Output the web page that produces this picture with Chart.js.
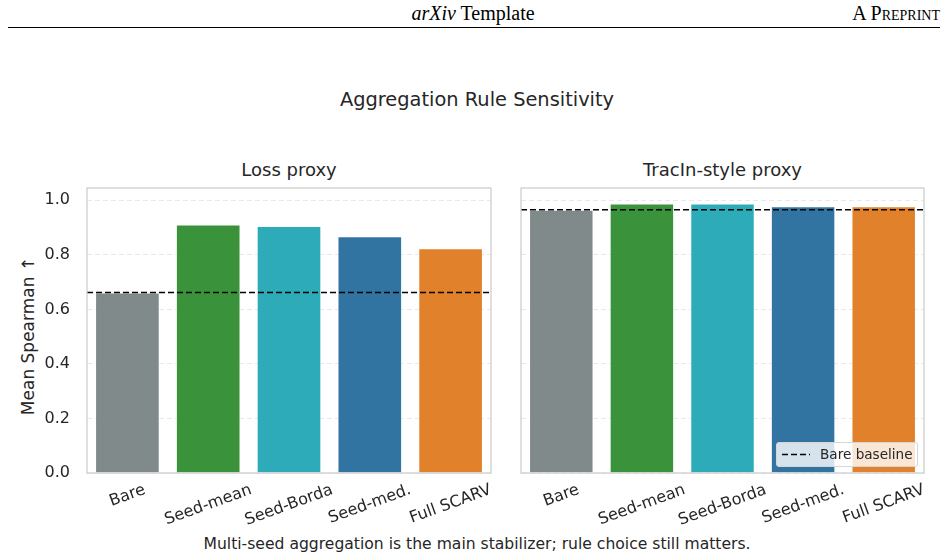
<!DOCTYPE html>
<html><head><meta charset="utf-8">
<script src="https://cdn.jsdelivr.net/npm/chart.js@4.4.1/dist/chart.umd.min.js"></script>
<style>
html,body{margin:0;padding:0;width:948px;height:560px;overflow:hidden;background:#fff;}
.t{position:absolute;font-family:"DejaVu Sans",sans-serif;color:#262626;white-space:nowrap;line-height:1;}
canvas{position:absolute;}
</style></head><body>
<div style="position:absolute;left:473px;top:3px;transform:translateX(-50%);font-family:'Liberation Serif',serif;font-size:20px;line-height:1;white-space:nowrap;color:#000;"><i>arXiv</i> Template</div>
<div style="position:absolute;right:8px;top:3px;font-family:'Liberation Serif',serif;font-size:20px;line-height:1;font-variant:small-caps;white-space:nowrap;color:#000;">A Preprint</div>
<div style="position:absolute;left:8px;top:27px;width:932px;height:1.3px;background:#000;"></div>

<div class="t" style="left:477px;top:89.5px;transform:translateX(-50%);font-size:19.4px;">Aggregation Rule Sensitivity</div>
<div class="t" style="left:289px;top:161px;transform:translateX(-50%);font-size:18px;">Loss proxy</div>
<div class="t" style="left:722.5px;top:161px;transform:translateX(-50%);font-size:18px;">TracIn-style proxy</div>
<div class="t" style="left:28px;top:336px;transform:translate(-50%,-50%) rotate(-90deg);font-size:17px;line-height:1.2;">Mean Spearman ↑</div>
<div class="t" style="left:477px;top:537px;transform:translateX(-50%);font-size:15.6px;">Multi-seed aggregation is the main stabilizer; rule choice still matters.</div>

<canvas id="c1" width="500" height="409" style="left:0;top:151px;"></canvas>
<canvas id="c2" width="448" height="409" style="left:500px;top:151px;"></canvas>

<div style="position:absolute;left:776px;top:442px;width:142px;height:25px;box-sizing:border-box;border:1px solid #d6d6d6;border-radius:3px;background:rgba(255,255,255,0.8);">
  <svg width="40" height="23" style="position:absolute;left:4px;top:0;"><line x1="1" y1="11.5" x2="29" y2="11.5" stroke="#000" stroke-width="1.6" stroke-dasharray="6,3"/></svg>
  <div class="t" style="left:43px;top:5px;font-size:13.6px;">Bare baseline</div>
</div>

<script>
const categories = ['Bare', 'Seed-mean', 'Seed-Borda', 'Seed-med.', 'Full SCARV'];
const lossProxy = [0.662, 0.911, 0.906, 0.868, 0.824];
const tracinProxy = [0.965, 0.988, 0.988, 0.978, 0.978];
const bareBaselines = [lossProxy[0], tracinProxy[0]];
const yTicks = [0.0, 0.2, 0.4, 0.6, 0.8, 1.0];
const yMax = 1.045;
const barColors = ['#808a8b', '#3a923a', '#2eabb8', '#3274a1', '#e1812c'];

const FONT = '"DejaVu Sans", sans-serif';

const decorPlugin = {
  id: 'decor',
  afterDatasetsDraw(chart, args, opts) {
    const ctx = chart.ctx, a = chart.chartArea, y = chart.scales.y;
    const py = y.getPixelForValue(opts.baseline);
    ctx.save();
    ctx.strokeStyle = '#000';
    ctx.lineWidth = 1.6;
    ctx.setLineDash([6, 3]);
    ctx.beginPath();
    ctx.moveTo(a.left, py);
    ctx.lineTo(a.right, py);
    ctx.stroke();
    ctx.restore();
  },
  afterDraw(chart) {
    const ctx = chart.ctx, a = chart.chartArea, x = chart.scales.x;
    ctx.save();
    ctx.strokeStyle = '#cccccc';
    ctx.lineWidth = 1.25;
    ctx.strokeRect(a.left, a.top, a.right - a.left, a.bottom - a.top);
    ctx.font = '16px ' + FONT;
    ctx.fillStyle = '#262626';
    ctx.textAlign = 'center';
    ctx.textBaseline = 'middle';
    const ang = 20 * Math.PI / 180;
    const h = 18;
    categories.forEach((lab, i) => {
      const px = x.getPixelForValue(i);
      const w = ctx.measureText(lab).width;
      const boxH = w * Math.sin(ang) + h * Math.cos(ang);
      const cy = a.bottom + 8 + boxH / 2;
      ctx.save();
      ctx.translate(px, cy);
      ctx.rotate(-ang);
      ctx.fillText(lab, 0, 0);
      ctx.restore();
    });
    ctx.restore();
  }
};

function makeChart(id, values, baseline, yw, padRight, showTicks) {
  return new Chart(document.getElementById(id), {
    type: 'bar',
    data: {
      labels: categories,
      datasets: [{
        data: values,
        backgroundColor: barColors,
        borderColor: 'rgba(255,255,255,0.45)',
        borderWidth: 1,
        barPercentage: 0.8,
        categoryPercentage: 1.0
      }]
    },
    options: {
      responsive: false,
      animation: false,
      devicePixelRatio: 1,
      layout: { padding: { top: 37, right: padRight, left: 0, bottom: 0 } },
      plugins: {
        legend: { display: false },
        tooltip: { enabled: false },
        title: { display: false },
        decor: { baseline: baseline }
      },
      scales: {
        x: {
          type: 'category',
          grid: { display: false },
          border: { display: false },
          ticks: { display: false },
          afterFit: s => { s.height = 87; }
        },
        y: {
          min: 0, max: yMax,
          afterBuildTicks: s => { s.ticks = yTicks.map(v => ({ value: v })); },
          afterFit: s => { s.width = yw; },
          grid: { color: '#e9e9e9', lineWidth: 1, drawTicks: false },
          border: { display: false, dash: [5, 3] },
          ticks: {
            display: showTicks,
            padding: 17,
            color: '#262626',
            font: { family: FONT, size: 16 },
            callback: v => Number(v).toFixed(1)
          }
        }
      }
    },
    plugins: [decorPlugin]
  });
}

makeChart('c1', lossProxy, bareBaselines[0], 87, 9, true);
makeChart('c2', tracinProxy, bareBaselines[1], 21, 24, false);
</script>
</body></html>
